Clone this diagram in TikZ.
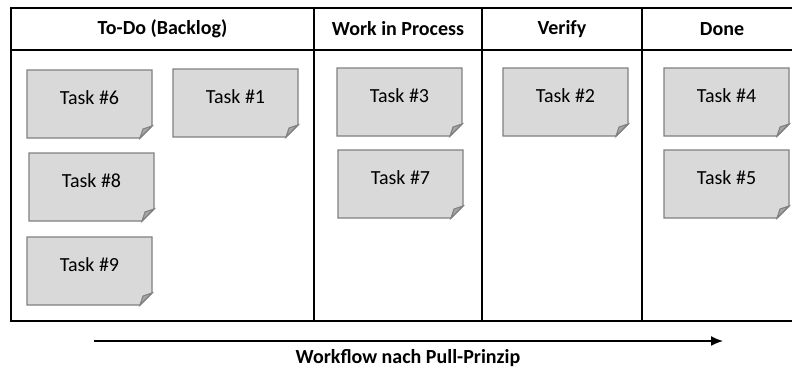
\documentclass[tikz,border=0pt]{standalone}
\usepackage{fontspec}
\setmainfont{Carlito}
\usetikzlibrary{arrows.meta}
\definecolor{notegray}{HTML}{D9D9D9}
\definecolor{noteedge}{HTML}{808080}
\definecolor{foldgray}{HTML}{A6A6A6}
\tikzset{
    colhead/.style={font=\fontsize{20}{24}\selectfont\bfseries, inner sep=0pt},
    tasktext/.style={font=\fontsize{20}{24}\selectfont, inner sep=0pt, text depth=12pt},
    notebody/.style={fill=notegray, draw=noteedge, line width=1.4pt, line join=miter},
    notefold/.style={fill=foldgray, draw=noteedge, line width=1.1pt},
    board/.style={line width=2pt, black}
}
\begin{document}
\begin{tikzpicture}[x=1pt, y=-1pt]
    \useasboundingbox (0,0) rectangle (792,372);

    % Board
    \draw[board] (796,8) -- (11,8) -- (11,321) -- (796,321);
    \draw[board] (11,50) -- (796,50);
    \foreach \xc in {314,482,642}
        \draw[board] (\xc,8) -- (\xc,322);

    % Column headers
    \node[colhead] (todo) at (162.5,29) {To-Do (Backlog)};
    \node[colhead] (wip) at (398,29) {Work in Process};
    \node[colhead] (verify) at (562,29) {Verify};
    \node[colhead] (done) at (722,29) {Done};

    % Task notes (top left corner / number)
    \foreach \name/\x/\y/\num in {t6/27/70/6, t1/173/69/1, t8/29/153/8, t9/27/237/9,
                                   t3/337/68/3, t7/338/150/7, t2/503/68/2,
                                   t4/664/68/4, t5/664/150/5} {
        \draw[notebody] (\x,\y) -- ++(125,0) -- ++(0,56) -- ++(-12,12) -- ++(-113,0) -- cycle;
        \draw[notefold] (\x+125,\y+56) -- (\x+113,\y+68) -- (\x+116,\y+59) -- cycle;
        \node[tasktext] (\name) at (\x+62.5,\y+34) {Task \#\num};
    }

    % Workflow arrow
    \coordinate (flowstart) at (94,341);
    \coordinate (flowend) at (723,341);
    \draw[-{Latex[length=12pt, width=10pt]}, line width=1.5pt] (flowstart) -- (flowend);
    \node[colhead] (flowlabel) at (408,358) {Workflow nach Pull-Prinzip};
\end{tikzpicture}
\end{document}
